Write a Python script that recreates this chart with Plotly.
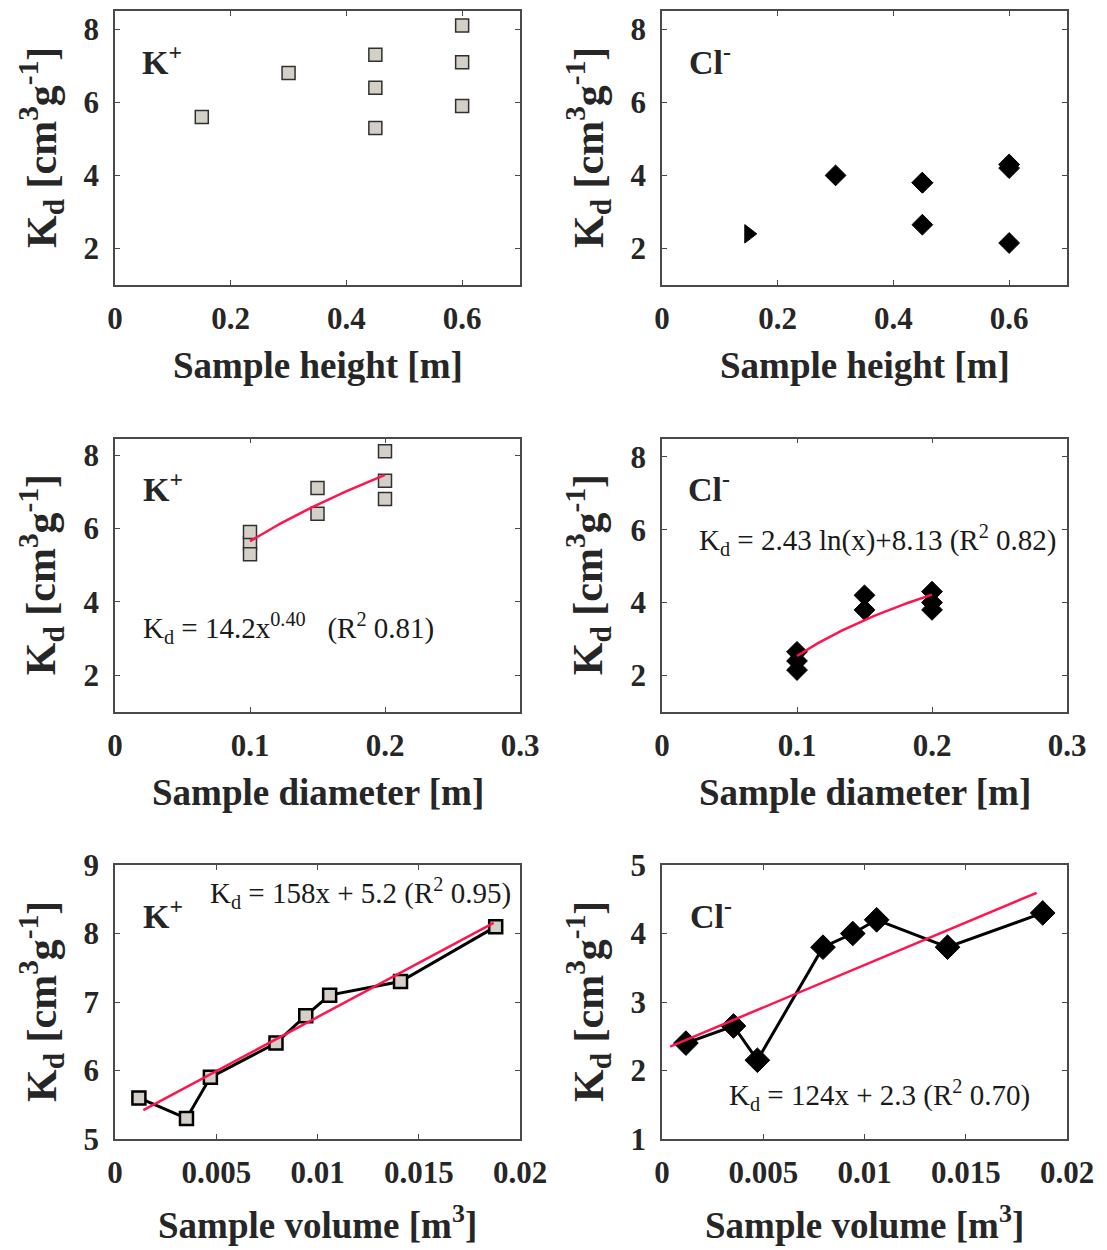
import numpy as np
import plotly.graph_objects as go

# ---- measured samples (ordered by volume) ----
sample_height = [0.15, 0.45, 0.60, 0.45, 0.30, 0.60, 0.45, 0.60]       # m
sample_diameter = [0.10, 0.10, 0.10, 0.15, 0.20, 0.15, 0.20, 0.20]     # m
sample_volume = [0.00118, 0.00353, 0.00471, 0.00795, 0.00942, 0.0106, 0.0141, 0.0188]  # m3
kd_potassium = [5.6, 5.3, 5.9, 6.4, 6.8, 7.1, 7.3, 8.1]                # cm3/g
kd_chloride = [2.4, 2.65, 2.15, 3.8, 4.0, 4.2, 3.8, 4.3]               # cm3/g

# ---- fitted relations ----
k_diam_fit = {"a": 14.2, "b": 0.40, "x": [0.10, 0.20]}        # Kd = a x^b
cl_diam_fit = {"a": 2.43, "b": 8.13, "x": [0.10, 0.20]}       # Kd = a ln(x) + b
k_vol_fit = {"a": 158.0, "b": 5.2, "x": [0.0014, 0.0187]}     # Kd = a x + b
cl_vol_fit = {"a": 124.0, "b": 2.3, "x": [0.0004, 0.0185]}    # Kd = a x + b

# ---- axes ticks ----
height_ticks = [0, 0.2, 0.4, 0.6]
height_labels = ["0", "0.2", "0.4", "0.6"]
diam_ticks = [0, 0.1, 0.2, 0.3]
diam_labels = ["0", "0.1", "0.2", "0.3"]
vol_ticks = [0, 0.005, 0.01, 0.015, 0.02]
vol_labels = ["0", "0.005", "0.01", "0.015", "0.02"]
kd_ticks = [2, 4, 6, 8]
k_vol_ticks = [5, 6, 7, 8, 9]
cl_vol_ticks = [1, 2, 3, 4, 5]

W, H = 1107, 1250
FONT = "Liberation Serif, Times New Roman, serif"
INK = "#262626"
BOX = "#4a4a4a"
GRAY_FILL = "#d4d0c8"
FIT_RED = "#ff1450"

col_px = [(115, 520), (662, 1067)]
row_px = [(11, 285), (438.5, 712), (865, 1139)]


def xdom(c):
    return [col_px[c][0] / W, col_px[c][1] / W]


def ydom(r):
    return [1 - row_px[r][1] / H, 1 - row_px[r][0] / H]


fig = go.Figure()

square_k = dict(symbol="square", size=13, color=GRAY_FILL, line=dict(color="#303030", width=1.5))
diamond_cl = dict(symbol="diamond", size=16, color="black", line=dict(color="black", width=1))

# Row 1: sample height
fig.add_trace(go.Scatter(x=sample_height, y=kd_potassium, mode="markers",
                         marker=square_k, xaxis="x", yaxis="y"))
cl_height_symbols = ["triangle-right"] + ["diamond"] * (len(kd_chloride) - 1)
fig.add_trace(go.Scatter(x=sample_height, y=kd_chloride, mode="markers",
                         marker=dict(symbol=cl_height_symbols, size=16, color="black",
                                     line=dict(color="black", width=1)),
                         xaxis="x2", yaxis="y2"))

# Row 2: sample diameter with fitted curves
fig.add_trace(go.Scatter(x=sample_diameter, y=kd_potassium, mode="markers",
                         marker=square_k, xaxis="x3", yaxis="y3"))
xd = np.linspace(k_diam_fit["x"][0], k_diam_fit["x"][1], 60)
fig.add_trace(go.Scatter(x=xd, y=k_diam_fit["a"] * xd ** k_diam_fit["b"], mode="lines",
                         line=dict(color=FIT_RED, width=2.5), xaxis="x3", yaxis="y3"))

fig.add_trace(go.Scatter(x=sample_diameter, y=kd_chloride, mode="markers",
                         marker=diamond_cl, xaxis="x4", yaxis="y4"))
xc = np.linspace(cl_diam_fit["x"][0], cl_diam_fit["x"][1], 60)
fig.add_trace(go.Scatter(x=xc, y=cl_diam_fit["a"] * np.log(xc) + cl_diam_fit["b"], mode="lines",
                         line=dict(color=FIT_RED, width=2.5), xaxis="x4", yaxis="y4"))

# Row 3: sample volume, joined points plus linear fits
fig.add_trace(go.Scatter(x=sample_volume, y=kd_potassium, mode="lines+markers",
                         line=dict(color="black", width=3),
                         marker=dict(symbol="square", size=13, color=GRAY_FILL,
                                     line=dict(color="black", width=2.5)),
                         xaxis="x5", yaxis="y5"))
xv = np.array(k_vol_fit["x"])
fig.add_trace(go.Scatter(x=xv, y=k_vol_fit["a"] * xv + k_vol_fit["b"], mode="lines",
                         line=dict(color=FIT_RED, width=2.5), xaxis="x5", yaxis="y5"))

fig.add_trace(go.Scatter(x=sample_volume, y=kd_chloride, mode="lines+markers",
                         line=dict(color="black", width=3),
                         marker=dict(symbol="diamond", size=19, color="black",
                                     line=dict(color="black", width=1)),
                         xaxis="x6", yaxis="y6"))
xw = np.array(cl_vol_fit["x"])
fig.add_trace(go.Scatter(x=xw, y=cl_vol_fit["a"] * xw + cl_vol_fit["b"], mode="lines",
                         line=dict(color=FIT_RED, width=2.5), xaxis="x6", yaxis="y6"))

tick_font = dict(family=FONT, size=31, color=INK, weight="bold")


def x_axis(c, r, rng, vals, labels, anchor):
    return dict(domain=xdom(c), range=rng, tickvals=vals, ticktext=labels, anchor=anchor,
                showline=True, linecolor=BOX, linewidth=1.5, mirror="allticks",
                ticks="inside", ticklen=5, tickwidth=1.2, tickcolor=BOX,
                showgrid=False, zeroline=False, tickfont=tick_font, ticklabelstandoff=5,
                automargin=False, fixedrange=True)


def y_axis(c, r, rng, vals, anchor):
    return dict(domain=ydom(r), range=rng, tickvals=vals, ticktext=[str(v) for v in vals],
                anchor=anchor, showline=True, linecolor=BOX, linewidth=1.5, mirror="allticks",
                ticks="inside", ticklen=5, tickwidth=1.2, tickcolor=BOX,
                showgrid=False, zeroline=False, tickfont=tick_font, ticklabelstandoff=8,
                automargin=False, fixedrange=True)


fig.update_layout(
    width=W, height=H, margin=dict(l=0, r=0, t=0, b=0, autoexpand=False),
    paper_bgcolor="white", plot_bgcolor="white", showlegend=False,
    xaxis=x_axis(0, 0, [0, 0.7], height_ticks, height_labels, "y"),
    yaxis=y_axis(0, 0, [1, 8.5], kd_ticks, "x"),
    xaxis2=x_axis(1, 0, [0, 0.7], height_ticks, height_labels, "y2"),
    yaxis2=y_axis(1, 0, [1, 8.5], kd_ticks, "x2"),
    xaxis3=x_axis(0, 1, [0, 0.3], diam_ticks, diam_labels, "y3"),
    yaxis3=y_axis(0, 1, [1, 8.45], kd_ticks, "x3"),
    xaxis4=x_axis(1, 1, [0, 0.3], diam_ticks, diam_labels, "y4"),
    yaxis4=y_axis(1, 1, [1, 8.5], kd_ticks, "x4"),
    xaxis5=x_axis(0, 2, [0, 0.02], vol_ticks, vol_labels, "y5"),
    yaxis5=y_axis(0, 2, [5, 9], k_vol_ticks, "x5"),
    xaxis6=x_axis(1, 2, [0, 0.02], vol_ticks, vol_labels, "y6"),
    yaxis6=y_axis(1, 2, [1, 5], cl_vol_ticks, "x6"),
)

ann = []


def add_text(text, x, y, size, bold=False, xanchor="center", yanchor="middle", angle=0):
    f = dict(family=FONT, size=size, color=INK if bold else "#1a1a1a")
    if bold:
        f["weight"] = "bold"
    ann.append(dict(text=text, x=x / W, y=1 - y / H, xref="paper", yref="paper",
                    xanchor=xanchor, yanchor=yanchor, showarrow=False, textangle=angle,
                    font=f))


# axis titles
x_titles = ["Sample height [m]", "Sample diameter [m]", "Sample volume [m<sup>3</sup>]"]
x_title_y = [365, 792, 1222]
ytitle = "K<sub>d</sub> [cm<sup>3</sup>g<sup>-1</sup>]"
for r in range(3):
    for c in range(2):
        cx = (col_px[c][0] + col_px[c][1]) / 2
        add_text(x_titles[r], cx, x_title_y[r], 37, bold=True)
        cy = (row_px[r][0] + row_px[r][1]) / 2
        add_text(ytitle, col_px[c][0] - 74, cy, 42, bold=True, angle=-90)

# ion labels
ion_pos = [(140, 60), (687, 60), (141, 487), (686, 487), (141, 914), (688, 914)]
ions = ["K<sup>+</sup>", "Cl<sup>-</sup>"] * 3
for (px, py), t in zip(ion_pos, ions):
    add_text(t, px, py, 34, bold=True, xanchor="left")

# fit equations
add_text("K<sub>d</sub> = 14.2x<sup>0.40</sup>&nbsp;&nbsp;&nbsp;(R<sup>2</sup> 0.81)", 141, 628, 29,
         xanchor="left")
add_text("K<sub>d</sub> = 2.43 ln(x)+8.13 (R<sup>2</sup> 0.82)", 697, 540, 29, xanchor="left")
add_text("K<sub>d</sub> = 158x + 5.2 (R<sup>2</sup> 0.95)", 208, 893, 29, xanchor="left")
add_text("K<sub>d</sub> = 124x + 2.3 (R<sup>2</sup> 0.70)", 727, 1095, 29, xanchor="left")

fig.update_layout(annotations=ann)
fig.write_html("out.html")
